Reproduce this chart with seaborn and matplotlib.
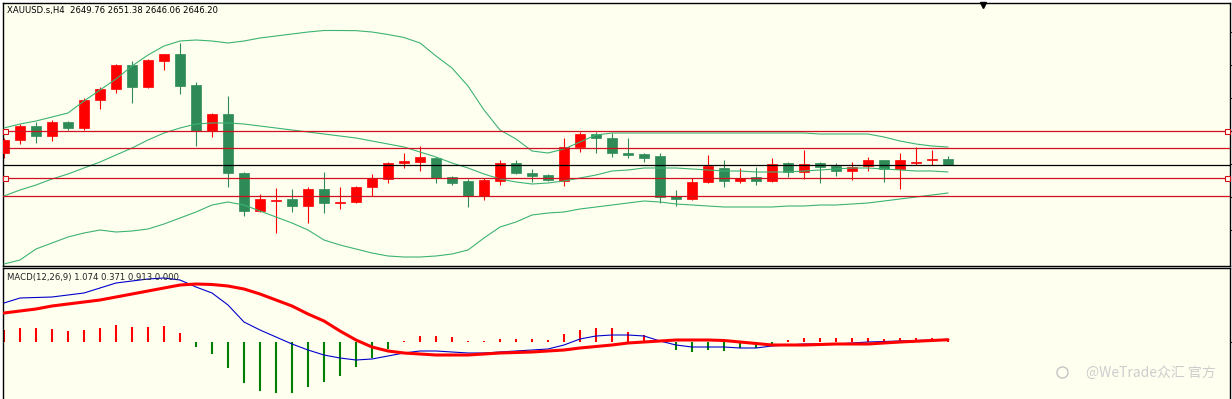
import numpy as np
import pandas as pd
import matplotlib
matplotlib.use('Agg')
import matplotlib.pyplot as plt
import seaborn as sns

# XAUUSD.s H4 candles
opens = [2653.4, 2661.2, 2669.6, 2663.6, 2672.0, 2668.4, 2685.2, 2691.8, 2706.2, 2693.0,
         2708.6, 2712.8, 2694.2, 2666.6, 2676.8, 2641.4, 2618.6, 2624.6, 2625.8, 2621.6,
         2631.8, 2623.4, 2624.0, 2633.0, 2637.8, 2647.4, 2648.0, 2650.4, 2639.0, 2636.6,
         2627.6, 2636.6, 2647.4, 2641.4, 2640.2, 2636.6, 2657.0, 2664.8, 2662.4, 2653.4,
         2652.8, 2651.6, 2627.6, 2625.8, 2636.0, 2644.4, 2636.6, 2639.0, 2636.6, 2647.4,
         2642.0, 2647.4, 2645.6, 2642.6, 2645.6, 2649.2, 2643.8, 2647.7, 2649.5, 2649.76]
highs = [2662.4, 2670.8, 2672.0, 2673.2, 2672.6, 2686.4, 2693.0, 2706.8, 2708.6, 2709.8,
         2712.8, 2719.4, 2696.0, 2677.4, 2687.6, 2642.0, 2628.8, 2632.4, 2631.8, 2633.0,
         2642.0, 2633.0, 2633.6, 2640.8, 2648.0, 2653.4, 2657.6, 2651.0, 2639.6, 2637.8,
         2638.4, 2649.2, 2649.2, 2643.8, 2640.8, 2662.4, 2666.0, 2666.0, 2665.4, 2662.4,
         2653.4, 2653.4, 2631.2, 2638.4, 2652.2, 2649.2, 2644.4, 2645.0, 2650.4, 2648.0,
         2655.2, 2648.0, 2647.4, 2648.0, 2651.0, 2649.2, 2653.4, 2657.0, 2655.2, 2651.38]
lows = [2650.4, 2658.8, 2659.4, 2660.6, 2667.2, 2667.2, 2679.8, 2689.4, 2683.4, 2692.4,
        2703.2, 2688.8, 2657.6, 2663.0, 2633.0, 2615.6, 2618.0, 2605.4, 2618.0, 2611.4,
        2617.4, 2619.8, 2623.4, 2627.6, 2635.4, 2644.4, 2642.6, 2635.4, 2634.2, 2621.0,
        2625.2, 2634.2, 2640.8, 2636.0, 2636.6, 2633.6, 2654.0, 2653.4, 2651.0, 2650.4,
        2648.0, 2623.4, 2621.6, 2625.2, 2635.4, 2633.0, 2635.4, 2634.2, 2636.0, 2639.0,
        2637.8, 2635.4, 2639.6, 2637.2, 2642.6, 2636.0, 2631.8, 2646.2, 2646.2, 2646.06]
closes = [2661.2, 2669.6, 2663.6, 2672.0, 2668.4, 2685.2, 2691.8, 2706.2, 2693.0, 2709.2,
          2712.8, 2693.6, 2666.6, 2676.8, 2641.4, 2618.6, 2625.8, 2625.2, 2621.6, 2631.8,
          2623.4, 2624.0, 2633.0, 2638.4, 2647.4, 2648.6, 2651.0, 2638.4, 2635.4, 2627.6,
          2637.2, 2647.4, 2641.4, 2639.6, 2637.2, 2657.0, 2664.8, 2662.4, 2653.4, 2652.2,
          2650.4, 2627.0, 2625.8, 2636.0, 2645.6, 2636.6, 2638.4, 2636.6, 2646.8, 2642.0,
          2646.8, 2645.0, 2642.6, 2645.0, 2649.2, 2643.8, 2649.2, 2648.0, 2649.8, 2646.20]

# Bollinger bands
bb_upper = [2668.4, 2670.8, 2672.6, 2675.0, 2677.4, 2684.6, 2691.2, 2697.8, 2705.6, 2712.2,
            2717.6, 2720.6, 2721.2, 2720.6, 2719.4, 2720.6, 2722.4, 2723.6, 2724.8, 2726.0,
            2726.9, 2726.9, 2726.8, 2726.0, 2724.5, 2722.7, 2719.4, 2711.6, 2704.4, 2693.6,
            2679.2, 2667.2, 2661.8, 2654.6, 2653.4, 2655.8, 2660.0, 2664.2, 2665.4, 2665.4,
            2665.4, 2665.4, 2665.4, 2665.4, 2665.4, 2665.4, 2665.4, 2665.4, 2665.4, 2665.4,
            2665.4, 2664.8, 2664.8, 2664.8, 2664.8, 2663.0, 2660.6, 2658.8, 2657.6, 2657.0]
bb_middle = [2627.6, 2631.2, 2634.2, 2637.8, 2640.8, 2644.4, 2648.0, 2652.2, 2656.4, 2661.2,
             2665.4, 2668.4, 2670.8, 2671.4, 2671.4, 2670.8, 2669.6, 2668.4, 2667.2, 2666.0,
             2664.8, 2663.6, 2662.4, 2660.6, 2658.8, 2657.0, 2654.0, 2651.0, 2647.4, 2644.4,
             2640.8, 2637.8, 2636.0, 2634.8, 2635.4, 2636.6, 2638.4, 2640.2, 2642.6, 2643.2,
             2644.4, 2644.4, 2644.4, 2643.8, 2643.2, 2642.6, 2642.6, 2642.0, 2642.0, 2642.0,
             2642.6, 2643.2, 2643.8, 2644.4, 2644.4, 2643.8, 2643.2, 2642.6, 2642.6, 2642.0]
bb_lower = [2586.8, 2589.2, 2595.8, 2599.4, 2603.0, 2605.4, 2607.2, 2606.0, 2606.6, 2607.8,
            2610.8, 2614.4, 2618.0, 2622.2, 2624.0, 2622.2, 2618.6, 2615.0, 2611.4, 2607.2,
            2601.2, 2598.2, 2595.8, 2593.4, 2591.6, 2591.0, 2591.0, 2591.6, 2592.8, 2595.2,
            2602.4, 2609.0, 2612.0, 2616.2, 2617.4, 2618.0, 2619.8, 2621.0, 2622.2, 2623.4,
            2624.6, 2624.0, 2622.8, 2622.2, 2621.6, 2621.0, 2621.0, 2621.0, 2621.0, 2621.6,
            2621.6, 2622.2, 2622.2, 2622.8, 2623.4, 2624.6, 2625.8, 2627.0, 2628.2, 2629.4]

# horizontal levels
red_levels = [2666.6, 2656.4, 2638.4, 2627.6]
boxed_levels = [2666.6, 2638.4]
bid_price = 2646.20

# MACD(12,26,9)
macd_dif = [15.6, 17.6, 17.8, 18.0, 18.8, 19.6, 21.6, 23.6, 24.4, 25.2,
            25.6, 24.8, 22.0, 19.6, 14.8, 8.0, 4.8, 2.0, -0.8, -3.2,
            -5.2, -6.4, -7.2, -6.8, -5.6, -4.4, -3.6, -3.6, -4.0, -4.4,
            -4.4, -4.0, -3.6, -3.2, -2.8, -1.2, 1.2, 2.4, 2.8, 2.8,
            2.4, 0.4, -1.2, -2.0, -2.0, -2.0, -2.4, -2.4, -1.6, -1.2,
            -0.8, -0.8, -0.8, -0.4, 0.0, 0.2, 0.4, 0.6, 0.8, 1.074]
macd_dea = [11.6, 12.4, 13.2, 14.4, 15.2, 16.0, 16.8, 18.0, 19.2, 20.4,
            21.6, 22.8, 23.2, 23.0, 22.4, 21.2, 19.2, 16.8, 14.4, 11.2,
            8.4, 4.4, 0.8, -2.0, -3.6, -4.4, -4.8, -5.2, -5.2, -5.2,
            -4.8, -4.4, -4.2, -4.0, -3.6, -3.2, -2.4, -1.8, -1.2, -0.4,
            0.0, 0.4, 0.8, 0.8, 0.8, 0.6, 0.0, -0.6, -1.2, -1.2,
            -1.2, -1.0, -0.8, -0.8, -0.8, -0.4, 0.0, 0.3, 0.6, 0.913]
macd_hist = [4.8, 5.7, 5.7, 5.2, 4.4, 4.8, 5.7, 6.8, 6.0, 6.0,
             6.4, 3.6, -2.0, -4.8, -10.4, -16.4, -19.6, -20.4, -20.4, -18.0,
             -16.0, -13.6, -10.0, -6.4, -2.8, 0.4, 2.4, 2.4, 2.0, 0.4,
             0.4, 1.2, 1.2, 1.2, 0.8, 3.2, 4.8, 5.6, 5.6, 4.0,
             2.8, 0.2, -3.2, -4.0, -3.2, -3.6, -2.4, -2.4, -1.6, 0.8,
             1.6, 1.6, 1.6, 1.6, 1.6, 1.2, 1.6, 1.6, 1.6, 0.371]

header = 'XAUUSD.s,H4  2649.76 2651.38 2646.06 2646.20'
macd_label = 'MACD(12,26,9) 1.074 0.371 0.913 0.000'
watermark = '@WeTrade众汇 官方'

BG = '#fffff0'
UP = '#ff0000'
DOWN = '#2e8b57'
BAND = '#3cb371'
LEVEL = '#d0101c'

sns.set_style('white')
plt.rcParams['font.family'] = ['DejaVu Sans']

W, H = 1232, 399
def px_box(l, t, r, b):
    return [l / W, 1 - b / H, (r - l) / W, (b - t) / H]

fig = plt.figure(figsize=(W / 100, H / 100), dpi=100, facecolor='white')
ax = fig.add_axes(px_box(3, 3, 1230, 266))
axm = fig.add_axes(px_box(3, 268, 1230, 401))

idx = np.arange(len(closes))
o = np.array(opens)
c = np.array(closes)
up = c >= o
colors = np.where(up, UP, DOWN)

for a in (ax, axm):
    a.set_facecolor(BG)
    for s in a.spines.values():
        s.set_color('black')
        s.set_linewidth(1.0)
    a.set_xlim(-0.0625, 76.625)

# candles
ax.vlines(idx, lows, highs, colors=colors, lw=0.8, zorder=2)
ax.bar(idx, np.maximum(np.abs(c - o), 0.6), bottom=np.minimum(o, c), width=0.62,
       color=colors, edgecolor=colors, linewidth=0.5, zorder=3)

# bollinger bands
for band in (bb_upper, bb_middle, bb_lower):
    sns.lineplot(x=idx, y=band, ax=ax, color=BAND, lw=0.8, zorder=4)

for lv in red_levels:
    ax.axhline(lv, color=LEVEL, lw=0.9, zorder=5)
ax.axhline(bid_price, color='black', lw=0.9, zorder=5)
for lv in boxed_levels:
    ax.plot([0.06, 76.44], [lv, lv], ls='none', marker='s', ms=3.6, mfc=BG,
            mec=LEVEL, mew=0.8, zorder=6, clip_on=False)

ax.plot([61.2], [0.992], marker='v', ms=5, color='black',
        transform=ax.get_xaxis_transform(), clip_on=False, zorder=7)

ax.set_ylim(2585.6, 2743.4)
ax.set_xticks([])
ax.set_yticks(np.arange(2607.4, 2730, 19.8))
ax.yaxis.tick_right()
ax.tick_params(axis='y', direction='out', length=3, width=0.8, labelright=False, right=True)
ax.set_xlabel('')
ax.set_ylabel('')

ax.text(0.0033, 0.9696, header, transform=ax.transAxes, fontsize=6.1,
        va='center', ha='left', color='black')

# MACD panel
hist = np.array(macd_hist)
axm.vlines(idx, 0, hist, colors=np.where(hist >= 0, '#ff0000', '#008000'), lw=1.5, zorder=2)
sns.lineplot(x=idx, y=macd_dif, ax=axm, color='#0000cd', lw=0.8, zorder=3)
sns.lineplot(x=idx, y=macd_dea, ax=axm, color='#ff0000', lw=2.2, zorder=4)
axm.set_ylim(-23.6, 29.6)
axm.set_xticks([])
axm.set_yticks([0])
axm.yaxis.tick_right()
axm.tick_params(axis='y', direction='out', length=3, width=0.8, labelright=False, right=True)
axm.spines['bottom'].set_visible(False)
axm.set_xlabel('')
axm.set_ylabel('')
axm.text(0.0033, 0.93, macd_label, transform=axm.transAxes, fontsize=6.1,
         va='center', ha='left', color='#222222', zorder=5)

axm.text(0.988, 0.215, watermark, transform=axm.transAxes, fontsize=10, ha='right',
         va='center', color='#cdcdcd', family=['Noto Sans CJK SC', 'DejaVu Sans'])
axm.plot([0.863], [0.218], transform=axm.transAxes, marker='o', ms=8, mfc='none',
         mec='#c4c4c4', mew=1.0)

fig.savefig('out.png', dpi=100, facecolor='white')
